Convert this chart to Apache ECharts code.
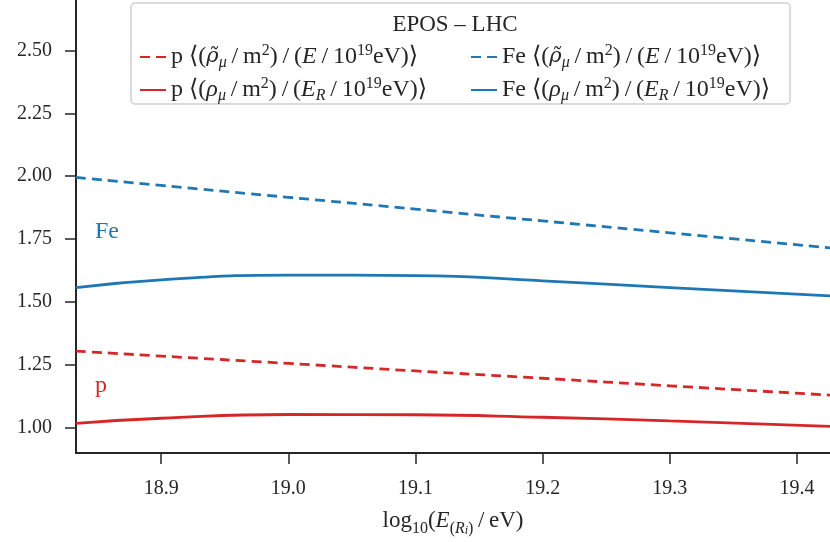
<!DOCTYPE html>
<html>
  <head>
    <meta charset="UTF-8" />
    <title>EPOS - LHC</title>
    <script src="https://cdn.jsdelivr.net/npm/echarts@6.0.0/dist/echarts.min.js"></script>
  </head>
  <body style="margin:0">
    <div id="chart" style="width: 830px; height: 542px"></div>
  </body>
  <script>
// x values: log10(E/eV)
const energies = [18.833, 18.9, 19.0, 19.1, 19.2, 19.3, 19.426];
const feDashed = [1.995, 1.963, 1.916, 1.869, 1.822, 1.775, 1.715];
const feSolid = [1.557, 1.588, 1.607, 1.605, 1.584, 1.557, 1.524];
const pDashed = [1.305, 1.285, 1.256, 1.226, 1.197, 1.167, 1.13];
const pSolid = [1.018, 1.038, 1.053, 1.052, 1.042, 1.028, 1.006];
const xTicks = [18.9, 19.0, 19.1, 19.2, 19.3, 19.4];
const yTicks = [1.0, 1.25, 1.5, 1.75, 2.0, 2.25, 2.5];

const red = '#d62728';
const blue = '#1f77b4';
const serif = '"Liberation Serif", "DejaVu Serif", serif';
const ink = '#262626';

let chart = echarts.init(document.getElementById('chart'));

function pairs(ys) {
  return energies.map((x, i) => [x, ys[i]]);
}

// rich text for the legend labels (math-ish)
const rich = {
  n: { fontFamily: serif, fontSize: 24, color: ink },
  i: { fontFamily: serif, fontSize: 24, fontStyle: 'italic', color: ink },
  t: { fontFamily: '"DejaVu Serif", serif', fontSize: 21, fontStyle: 'italic', color: ink },
  sub: { fontFamily: serif, fontSize: 16, fontStyle: 'italic', color: ink, verticalAlign: 'bottom', padding: [12, 0, 0, 0] },
  sup: { fontFamily: serif, fontSize: 16, color: ink, verticalAlign: 'top', padding: [0, 0, 9, 0] }
};
const sl = '\u2009/\u2009';
const labels = {
  'p dashed': '{n|p ⟨(}{t|ρ̃}{sub|μ}{n|' + sl + 'm}{sup|2}{n|)' + sl + '(}{i|E}{n|' + sl + '10}{sup|19}{n|eV)⟩}',
  'Fe dashed': '{n|Fe ⟨(}{t|ρ̃}{sub|μ}{n|' + sl + 'm}{sup|2}{n|)' + sl + '(}{i|E}{n|' + sl + '10}{sup|19}{n|eV)⟩}',
  'p solid': '{n|p ⟨(}{i|ρ}{sub|μ}{n|' + sl + 'm}{sup|2}{n|)' + sl + '(}{i|E}{sub|R}{n|' + sl + '10}{sup|19}{n|eV)⟩}',
  'Fe solid': '{n|Fe ⟨(}{i|ρ}{sub|μ}{n|' + sl + 'm}{sup|2}{n|)' + sl + '(}{i|E}{sub|R}{n|' + sl + '10}{sup|19}{n|eV)⟩}'
};
function legendAt(name, left, top) {
  return {
    data: [name],
    left: left,
    top: top,
    itemWidth: 26,
    itemHeight: 14,
    itemGap: 4,
    padding: 0,
    itemStyle: { opacity: 0 },
    formatter: n => labels[n],
    textStyle: { rich: rich }
  };
}

function line(name, ys, color, dashed) {
  return {
    name: name,
    type: 'line',
    data: pairs(ys),
    smooth: true,
    symbol: 'none',
    lineStyle: { color: color, width: 2.8, type: dashed ? [10, 6] : 'solid' },
    itemStyle: { color: color }
  };
}

chart.setOption({
  animation: false,
  grid: { left: 76, right: 0, top: 0, bottom: 87 },
  xAxis: {
    type: 'value',
    min: 18.833,
    max: 19.426,
    name: '{n|log}{s|10}{n|(}{i|E}{s|(}{si|R}{ss|i}{s|)}{n|' + sl + 'eV)}',
    nameLocation: 'middle',
    nameGap: 52,
    nameTextStyle: {
      rich: {
        n: { fontFamily: serif, fontSize: 23, color: ink },
        i: { fontFamily: serif, fontSize: 23, fontStyle: 'italic', color: ink },
        s: { fontFamily: serif, fontSize: 16, color: ink, verticalAlign: 'bottom', padding: [12, 0, 0, 0] },
        si: { fontFamily: serif, fontSize: 16, fontStyle: 'italic', color: ink, verticalAlign: 'bottom', padding: [12, 0, 0, 0] },
        ss: { fontFamily: serif, fontSize: 12, fontStyle: 'italic', color: ink, verticalAlign: 'bottom', padding: [20, 0, 0, 0] }
      }
    },
    axisLine: { onZero: false, lineStyle: { color: ink, width: 2 } },
    axisTick: { customValues: xTicks, length: 11, lineStyle: { color: ink, width: 1.5 } },
    axisLabel: { customValues: xTicks, formatter: v => v.toFixed(1), fontFamily: serif, fontSize: 20, color: ink, margin: 26 },
    splitLine: { show: false }
  },
  yAxis: {
    type: 'value',
    min: 0.9,
    max: 2.7,
    axisLine: { show: true, onZero: false, lineStyle: { color: ink, width: 2 } },
    axisTick: { show: true, customValues: yTicks, length: 11, lineStyle: { color: ink, width: 1.5 } },
    axisLabel: { customValues: yTicks, formatter: v => v.toFixed(2), fontFamily: serif, fontSize: 20, color: ink, margin: 24 },
    splitLine: { show: false }
  },
  legend: [
    legendAt('p dashed', 139, 43),
    legendAt('Fe dashed', 470, 43),
    legendAt('p solid', 139, 76),
    legendAt('Fe solid', 470, 76)
  ],
  graphic: [
    {
      type: 'rect',
      shape: { x: 131, y: 3, width: 659, height: 101, r: 4 },
      style: { fill: 'rgba(255,255,255,0.8)', stroke: '#d0d0d0', lineWidth: 1.5 },
      z: 0
    },
    {
      type: 'text',
      x: 455, y: 25,
      style: { text: 'EPOS – LHC', fontFamily: serif, fontSize: 23, fill: ink, align: 'center', verticalAlign: 'middle' }
    },
    {
      type: 'text',
      x: 95, y: 232,
      style: { text: 'Fe', fontFamily: serif, fontSize: 24, fill: blue, verticalAlign: 'middle' }
    },
    {
      type: 'text',
      x: 95, y: 386,
      style: { text: 'p', fontFamily: serif, fontSize: 24, fill: red, verticalAlign: 'middle' }
    }
  ],
  series: [
    line('p dashed', pDashed, red, true),
    line('Fe dashed', feDashed, blue, true),
    line('p solid', pSolid, red, false),
    line('Fe solid', feSolid, blue, false)
  ]
});
  </script>
</html>
